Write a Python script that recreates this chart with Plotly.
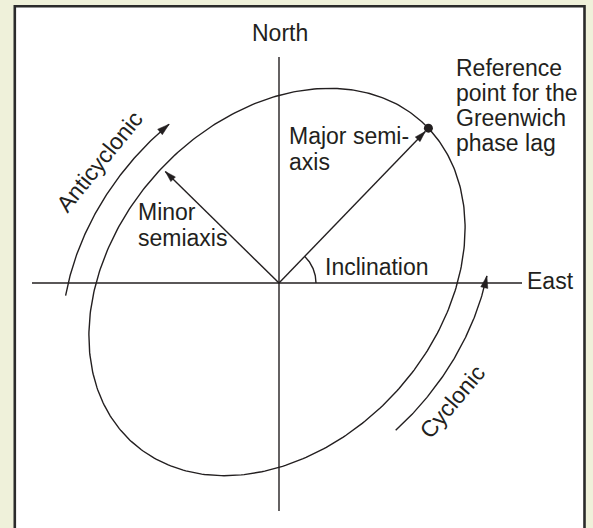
import numpy as np
import plotly.graph_objects as go

# ---- diagram geometry (pixel-space units, y grows downward) ----
ORIGIN = [279, 283]
ELL_CENTER = [277, 282]
SEMI_MAJOR = 216
SEMI_MINOR = 162
INCLINATION_DEG = 48
REF_POINT_T = -3.4          # parametric angle (deg) of the Greenwich reference point
MINOR_TIP_T = 88            # parametric angle (deg) where the minor-semiaxis arrow points
AXIS_X_SPAN = [32, 522]
AXIS_Y_SPAN = [57, 511]
INCL_ARC_RADIUS = 37
ROT_OFFSET = 27
ANTICYCLONIC_T = [129.5, 79.0]   # parametric angle range (deg) of the arrow arc
CYCLONIC_T = [-97.5, -52.5]

# ---- text ----
LABELS = ["North", "East", "Inclination", "Major semi-", "axis", "Minor", "semiaxis",
          "Reference", "point for the", "Greenwich", "phase lag"]
LABEL_X = [280, 525, 323, 287, 287, 136, 136, 454, 454, 454, 454]
LABEL_Y = [33, 281, 267, 136, 162, 212, 238, 68, 93, 118, 143]
LABEL_ANCHOR = ["center", "left", "left", "left", "left", "left", "left",
                "left", "left", "left", "left"]
ROT_LABELS = ["Anticyclonic", "Cyclonic"]
ROT_X = [99, 452]
ROT_Y = [162, 402]
ROT_ANGLE = [-51, -50]

INK = "#231f20"
BG = "#eff1da"
FONT = "Liberation Sans, Arial, Helvetica, sans-serif"
FS = 23

th = np.radians(INCLINATION_DEG)
e1 = np.array([np.cos(th), -np.sin(th)])
e2 = np.array([-np.sin(th), -np.cos(th)])
C = np.array(ELL_CENTER, dtype=float)


def ell_point(t, d=0.0):
    t = np.atleast_1d(t)
    p = C[None, :] + (SEMI_MAJOR * np.cos(t))[:, None] * e1 + (SEMI_MINOR * np.sin(t))[:, None] * e2
    if d:
        n = (SEMI_MINOR * np.cos(t))[:, None] * e1 + (SEMI_MAJOR * np.sin(t))[:, None] * e2
        n = n / np.linalg.norm(n, axis=1)[:, None]
        p = p + d * n
    return p


def head(tip, direction, L=11, W=3.3):
    d = np.asarray(direction, float)
    d = d / np.linalg.norm(d)
    perp = np.array([-d[1], d[0]])
    base = np.asarray(tip) - L * d
    a = base + W * perp
    b = base - W * perp
    return dict(type="path", path=f"M{tip[0]},{tip[1]} L{a[0]},{a[1]} L{b[0]},{b[1]} Z",
                fillcolor=INK, line=dict(color=INK, width=0.5), xref="x", yref="y")


fig = go.Figure()

def line(xs, ys, w=1.4):
    fig.add_trace(go.Scatter(x=list(xs), y=list(ys), mode="lines",
                             line=dict(color=INK, width=w), hoverinfo="skip", showlegend=False))

# axes
line(AXIS_X_SPAN, [ORIGIN[1], ORIGIN[1]])
line([ORIGIN[0], ORIGIN[0]], AXIS_Y_SPAN)

# ellipse
tt = np.linspace(0, 2 * np.pi, 400)
pe = ell_point(tt)
line(pe[:, 0], pe[:, 1])

shapes = []
# white panel
shapes.append(dict(type="rect", xref="x", yref="y", x0=14.8, x1=584.5, y0=6.3, y1=560,
                   fillcolor="white", line=dict(color="#2b2b2b", width=2.6), layer="below"))

O = np.array(ORIGIN, float)

# reference point
ref = ell_point(np.radians(REF_POINT_T))[0]
fig.add_trace(go.Scatter(x=[ref[0]], y=[ref[1]], mode="markers",
                         marker=dict(color=INK, size=9), hoverinfo="skip", showlegend=False))

# major semiaxis arrow
dmaj = ref - O
tip_maj = ref - 4.5 * dmaj / np.linalg.norm(dmaj)
line([O[0], tip_maj[0]], [O[1], tip_maj[1]])
shapes.append(head(tip_maj, dmaj))

# minor semiaxis arrow
mn = ell_point(np.radians(MINOR_TIP_T))[0]
dmin = mn - O
tip_min = mn - 5.0 * dmin / np.linalg.norm(dmin)
line([O[0], tip_min[0]], [O[1], tip_min[1]])
shapes.append(head(tip_min, dmin))

# inclination arc
ang = np.linspace(0, np.radians(46), 60)
line(O[0] + INCL_ARC_RADIUS * np.cos(ang), O[1] - INCL_ARC_RADIUS * np.sin(ang))

# rotation arrows
for tr in (ANTICYCLONIC_T, CYCLONIC_T):
    ts = np.radians(np.linspace(tr[0], tr[1], 120))
    pa = ell_point(ts, ROT_OFFSET)
    line(pa[:, 0], pa[:, 1])
    shapes.append(head(pa[-1], pa[-1] - pa[-4], L=12, W=3.6))

annotations = []
for txt, x, y, anc in zip(LABELS, LABEL_X, LABEL_Y, LABEL_ANCHOR):
    annotations.append(dict(text=txt, x=x, y=y, xref="x", yref="y", showarrow=False,
                            xanchor=anc, yanchor="middle",
                            font=dict(family=FONT, size=FS, color=INK)))
for txt, x, y, a in zip(ROT_LABELS, ROT_X, ROT_Y, ROT_ANGLE):
    annotations.append(dict(text=txt, x=x, y=y, xref="x", yref="y", showarrow=False,
                            textangle=a, xanchor="center", yanchor="middle",
                            font=dict(family=FONT, size=FS, color=INK)))

fig.update_layout(
    width=593, height=528,
    margin=dict(l=0, r=0, t=0, b=0),
    paper_bgcolor=BG, plot_bgcolor="rgba(0,0,0,0)",
    xaxis=dict(range=[0, 593], visible=False, fixedrange=True),
    yaxis=dict(range=[528, 0], visible=False, fixedrange=True),
    shapes=shapes, annotations=annotations, showlegend=False,
)
fig.write_html(
    "out.html",
    config={"displayModeBar": False},
    post_script=(
        "document.body.style.margin='0';document.body.style.padding='0';"
        "document.body.style.overflow='hidden';document.body.style.background='" + BG + "';"
    ),
)
